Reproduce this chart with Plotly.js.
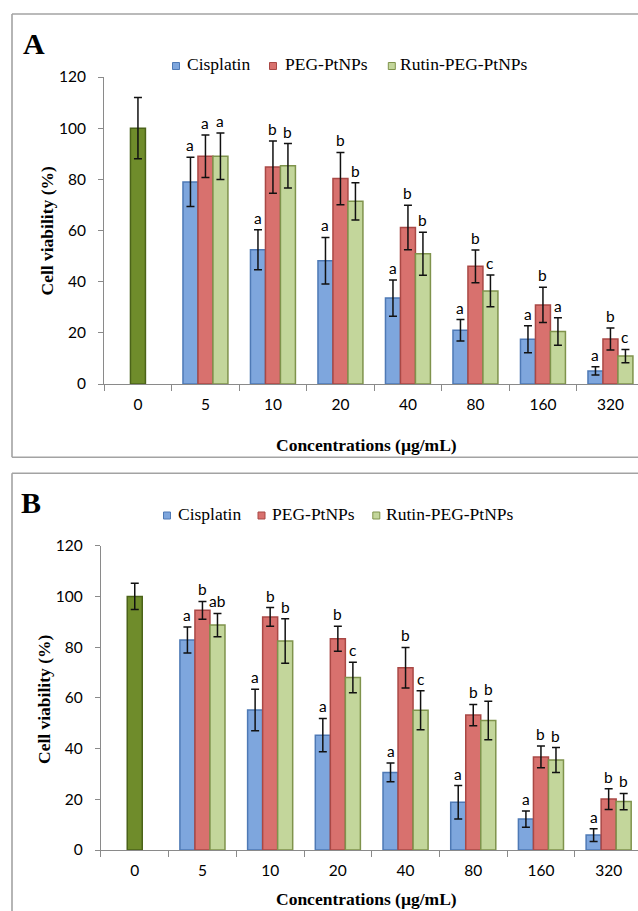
<!DOCTYPE html>
<html>
<head>
<meta charset="utf-8">
<script src="https://cdn.plot.ly/plotly-3.0.1.min.js"></script>
<style>
  html, body { margin: 0; padding: 0; background: #fff; overflow: hidden; }
  #chart { width: 638px; height: 911px; }
</style>
</head>
<body>
<div id="chart"></div>
<script>
// ---- data ----
const concentrations = ['0', '5', '10', '20', '40', '80', '160', '320'];
const treatedConc = ['5', '10', '20', '40', '80', '160', '320'];
const seriesNames = ['Cisplatin', 'PEG-PtNPs', 'Rutin-PEG-PtNPs'];
const controlName = 'Control';

// Panel A
const controlA = [100];
const controlErrA = [12];
const cisplatinA = [79.0, 52.5, 48.2, 33.6, 21.0, 17.5, 5.1];
const cisplatinErrA = [9.6, 7.8, 9.1, 7.1, 4.2, 5.3, 1.6];
const pegA = [89.0, 84.8, 80.3, 61.2, 46.0, 30.9, 17.6];
const pegErrA = [8.3, 10.2, 10.2, 8.7, 6.4, 6.9, 4.3];
const rutinA = [89.0, 85.3, 71.4, 50.9, 36.4, 20.5, 10.9];
const rutinErrA = [9.1, 8.7, 7.3, 8.4, 6.2, 5.4, 2.6];
const cisplatinLettersA = ['a', 'a', 'a', 'a', 'a', 'a', 'a'];
const pegLettersA = ['a', 'b', 'b', 'b', 'b', 'b', 'b'];
const rutinLettersA = ['a', 'b', 'b', 'b', 'c', 'a', 'c'];

// Panel B
const controlB = [100];
const controlErrB = [5.2];
const cisplatinB = [82.8, 55.2, 45.3, 30.6, 18.8, 12.2, 5.9];
const cisplatinErrB = [5.1, 8.2, 6.6, 3.7, 6.6, 3.2, 2.5];
const pegB = [94.5, 91.9, 83.3, 71.9, 53.2, 36.7, 20.1];
const pegErrB = [3.5, 3.7, 4.9, 8.0, 4.2, 4.3, 4.1];
const rutinB = [88.7, 82.4, 68.0, 55.1, 51.1, 35.5, 19.1];
const rutinErrB = [4.6, 8.8, 6.0, 7.7, 7.6, 4.9, 3.2];
const cisplatinLettersB = ['a', 'a', 'a', 'a', 'a', 'a', 'a'];
const pegLettersB = ['b', 'b', 'b', 'b', 'b', 'b', 'b'];
const rutinLettersB = ['ab', 'b', 'c', 'c', 'b', 'b', 'b'];

const yTicks = [0, 20, 40, 60, 80, 100, 120];
const xTitle = 'Concentrations (µg/mL)';
const yTitle = 'Cell viability (%)';

// ---- styling ----
const W = 638, H = 911;
const px = x => x / W;
const py = y => 1 - y / H;

const fills = ['#7ea6dd', '#d8716e', '#c3d69b'];
const edges = ['#4e79b5', '#a94845', '#7f934c'];
const controlFill = '#6f8c2b';
const controlEdge = '#4b6319';
const barW = 0.222;
const offsets = [-1.5 * barW, -0.5 * barW, 0.5 * barW];

const tickFont = { family: 'Lato, "Liberation Sans", sans-serif', size: 15.5, color: '#000' };
const letterFont = { family: 'Lato, "Liberation Sans", sans-serif', size: 15.5, color: '#000' };
const serif = 'Liberation Serif, Times New Roman, serif';

function errStyle(arr) {
  return { type: 'data', array: arr, visible: true, color: '#111', thickness: 1.5, width: 4 };
}

function panelTraces(xa, ya, control, controlErr, series, errs) {
  const traces = [{
    type: 'bar', name: controlName, x: ['0'], y: control,
    xaxis: xa, yaxis: ya, width: barW, offset: -0.5 * barW,
    marker: { color: controlFill, line: { color: controlEdge, width: 1.5 } },
    error_y: errStyle(controlErr), showlegend: false
  }];
  series.forEach((vals, i) => {
    traces.push({
      type: 'bar', name: seriesNames[i], x: treatedConc, y: vals,
      xaxis: xa, yaxis: ya, width: barW, offset: offsets[i],
      marker: { color: fills[i], line: { color: edges[i], width: 1.5 } },
      error_y: errStyle(errs[i]), showlegend: false
    });
  });
  return traces;
}

function letterAnnotations(xref, yref, series, errs, letters) {
  const out = [];
  series.forEach((vals, s) => {
    vals.forEach((v, i) => {
      out.push({
        xref: xref, yref: yref,
        x: concentrations.indexOf(treatedConc[i]) + offsets[s] + barW / 2,
        y: v + errs[s][i],
        text: letters[s][i], showarrow: false,
        xanchor: 'center', yanchor: 'bottom', yshift: 1,
        font: letterFont
      });
    });
  });
  return out;
}

function legendItems(yMid, yBase, boxes, textX) {
  const shapes = [], anns = [];
  seriesNames.forEach((n, i) => {
    shapes.push({
      type: 'rect', xref: 'paper', yref: 'paper',
      x0: px(boxes[i]), x1: px(boxes[i] + 7), y0: py(yBase), y1: py(yBase - 7),
      fillcolor: fills[i], line: { color: edges[i], width: 1 }
    });
    anns.push({
      xref: 'paper', yref: 'paper', x: px(textX[i]), y: py(yMid),
      xanchor: 'left', yanchor: 'middle', showarrow: false, text: n,
      font: { family: serif, size: 17.5, color: '#000' }
    });
  });
  return { shapes, anns };
}

function panelFrame(top, bottom) {
  const c = '#a3a3a3';
  const list = [
    { type: 'line', xref: 'paper', yref: 'paper', x0: px(12), x1: px(12), y0: py(top), y1: py(bottom), line: { color: c, width: 1.6 } },
    { type: 'line', xref: 'paper', yref: 'paper', x0: px(12), x1: 1, y0: py(top), y1: py(top), line: { color: c, width: 1.6 } }
  ];
  if (bottom < H) {
    list.push({ type: 'line', xref: 'paper', yref: 'paper', x0: px(12), x1: 1, y0: py(bottom), y1: py(bottom), line: { color: c, width: 1.6 } });
  }
  return list;
}

function xAxis(domainLeft, catWidth, anchor) {
  return {
    type: 'category', categoryorder: 'array', categoryarray: concentrations,
    domain: [px(domainLeft), 1], range: [-0.5, -0.5 + (W - domainLeft) / catWidth],
    anchor: anchor, showline: true, linecolor: '#8a8a8a', linewidth: 1,
    ticks: 'outside', tickson: 'boundaries', ticklen: 6, tickcolor: '#8a8a8a',
    showgrid: false, zeroline: false, tickfont: tickFont, ticklabelstandoff: 6,
    fixedrange: true
  };
}

function yAxis(y0px, y120px, anchor) {
  return {
    domain: [py(y0px), py(y120px)], range: [0, 120], anchor: anchor,
    tickvals: yTicks, ticktext: yTicks.map(String),
    showline: true, linecolor: '#8a8a8a', linewidth: 1,
    ticks: 'outside', ticklen: 5, tickcolor: '#8a8a8a',
    showgrid: false, zeroline: false, tickfont: tickFont, ticklabelstandoff: 9,
    fixedrange: true
  };
}

const data = [
  ...panelTraces('x', 'y', controlA, controlErrA, [cisplatinA, pegA, rutinA], [cisplatinErrA, pegErrA, rutinErrA]),
  ...panelTraces('x2', 'y2', controlB, controlErrB, [cisplatinB, pegB, rutinB], [cisplatinErrB, pegErrB, rutinErrB])
];

const legA = legendItems(63.5, 69.5, [172.5, 269.5, 388.3], [184.5, 282.5, 398]);
const legB = legendItems(514, 519, [163.5, 258, 372.8], [175.5, 269.5, 384]);

const titleFont = { family: serif, size: 17.5, color: '#000' };

const annotations = [
  ...letterAnnotations('x', 'y', [cisplatinA, pegA, rutinA], [cisplatinErrA, pegErrA, rutinErrA], [cisplatinLettersA, pegLettersA, rutinLettersA]),
  ...letterAnnotations('x2', 'y2', [cisplatinB, pegB, rutinB], [cisplatinErrB, pegErrB, rutinErrB], [cisplatinLettersB, pegLettersB, rutinLettersB]),
  ...legA.anns, ...legB.anns,
  { xref: 'paper', yref: 'paper', x: px(21), y: py(43), xanchor: 'left', yanchor: 'middle', showarrow: false,
    text: '<b>A</b>', font: { family: serif, size: 30, color: '#000' } },
  { xref: 'paper', yref: 'paper', x: px(19), y: py(502), xanchor: 'left', yanchor: 'middle', showarrow: false,
    text: '<b>B</b>', font: { family: serif, size: 30, color: '#000' } },
  { xref: 'paper', yref: 'paper', x: px(367), y: py(445), xanchor: 'center', yanchor: 'middle', showarrow: false,
    text: '<b>' + xTitle + '</b>', font: titleFont },
  { xref: 'paper', yref: 'paper', x: px(366.5), y: py(899), xanchor: 'center', yanchor: 'middle', showarrow: false,
    text: '<b>' + xTitle + '</b>', font: titleFont },
  { xref: 'paper', yref: 'paper', x: px(46.5), y: py(231), xanchor: 'center', yanchor: 'middle', showarrow: false,
    textangle: -90, text: '<b>' + yTitle + '</b>', font: titleFont },
  { xref: 'paper', yref: 'paper', x: px(44), y: py(700), xanchor: 'center', yanchor: 'middle', showarrow: false,
    textangle: -90, text: '<b>' + yTitle + '</b>', font: titleFont }
];

const layout = {
  width: W, height: H,
  margin: { l: 0, r: 0, t: 0, b: 0 },
  paper_bgcolor: '#fff', plot_bgcolor: 'rgba(0,0,0,0)',
  showlegend: false,
  barmode: 'overlay',
  xaxis: xAxis(104.2, 67.5, 'y'),
  yaxis: yAxis(384, 77, 'x'),
  xaxis2: xAxis(100.9, 67.7, 'y2'),
  yaxis2: yAxis(850, 545.7, 'x2'),
  shapes: [...panelFrame(14, 457.3), ...panelFrame(473.3, H + 5), ...legA.shapes, ...legB.shapes],
  annotations: annotations
};

Plotly.newPlot('chart', data, layout, { displayModeBar: false, staticPlot: true });
</script>
</body>
</html>
